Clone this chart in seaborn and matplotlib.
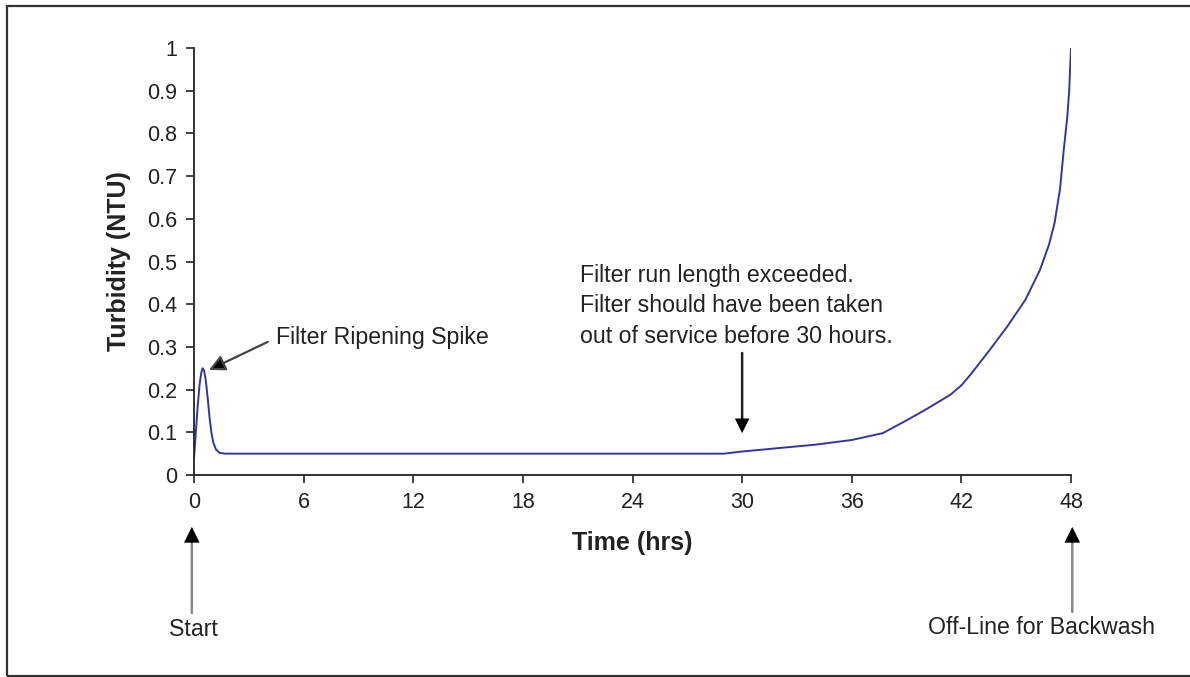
import matplotlib
matplotlib.use("Agg")
import matplotlib.pyplot as plt
from matplotlib.patches import Rectangle
import seaborn as sns
import pandas as pd

# turbidity readings over one filter run
time_hrs = [0, 0.1, 0.2, 0.3, 0.4, 0.47, 0.55, 0.65, 0.75, 0.85, 0.95, 1.05, 1.2, 1.4, 1.7,
            2.0, 29.0, 30.0, 32.0, 34.0, 36.0, 37.7, 39.0, 40.0, 41.4, 42.0, 42.5, 43.5, 44.5,
            45.5, 46.3, 46.8, 47.1, 47.4, 47.6, 47.8, 47.9, 48.0]
turbidity = [0.04, 0.1, 0.16, 0.21, 0.24, 0.25, 0.245, 0.22, 0.18, 0.135, 0.1, 0.077, 0.06,
             0.052, 0.05, 0.05, 0.05, 0.055, 0.063, 0.071, 0.082, 0.098, 0.128, 0.152, 0.188,
             0.21, 0.235, 0.29, 0.347, 0.41, 0.48, 0.54, 0.59, 0.67, 0.76, 0.84, 0.9, 1.0]

x_ticks = [0, 6, 12, 18, 24, 30, 36, 42, 48]
y_ticks = [0, 0.1, 0.2, 0.3, 0.4, 0.5, 0.6, 0.7, 0.8, 0.9, 1.0]
y_tick_labels = ["0", "0.1", "0.2", "0.3", "0.4", "0.5", "0.6", "0.7", "0.8", "0.9", "1"]

df = pd.DataFrame({"Time": time_hrs, "Turbidity": turbidity})

sns.set_style("ticks")
plt.rcParams["font.family"] = ["Liberation Sans", "DejaVu Sans"]
text_col = "#222222"


def px_y(p):
    # figure pixel row -> data y (axis spans rows 475..48)
    return (475 - p) / 427


def arrow(ax, x, tip, tail, shaft_col, size=26):
    # gray shaft with a solid black head, like the original
    ax.annotate("", xy=(x, px_y(tip)), xytext=(x, px_y(tail)), annotation_clip=False,
                arrowprops=dict(arrowstyle="-", color=shaft_col, lw=1.8, shrinkA=0, shrinkB=4))
    ax.annotate("", xy=(x, px_y(tip)), xytext=(x, px_y(tip + (16 if tail > tip else -16))),
                annotation_clip=False,
                arrowprops=dict(arrowstyle="-|>", fc="black", ec="black", lw=0.5,
                                mutation_scale=size, shrinkA=0, shrinkB=0))


fig = plt.figure(figsize=(11.9, 6.77), dpi=100)
ax = fig.add_axes([194 / 1190, 1 - 475 / 677, (1071 - 194) / 1190, (475 - 48) / 677])

sns.lineplot(data=df, x="Time", y="Turbidity", ax=ax, color="#3535a0", linewidth=1.4,
             estimator=None)

ax.set_xlim(0, 48)
ax.set_ylim(0, 1)
ax.set_xticks(x_ticks)
ax.set_yticks(y_ticks)
ax.set_yticklabels(y_tick_labels)
ax.tick_params(axis="both", labelsize=15.5, length=6, width=1.2, colors="#222222", pad=6)
for s in ["top", "right"]:
    ax.spines[s].set_visible(False)
for s in ["left", "bottom"]:
    ax.spines[s].set_linewidth(1.3)
    ax.spines[s].set_color("#222222")

ax.set_xlabel("Time (hrs)", fontsize=18, fontweight="bold", color=text_col, labelpad=13)
ax.set_ylabel("Turbidity (NTU)", fontsize=18, fontweight="bold", color=text_col, labelpad=12)

# ripening spike
ax.annotate("Filter Ripening Spike", xy=(0.82, 0.246), xytext=(4.49, 0.321),
            fontsize=16.7, color=text_col, ha="left", va="center",
            arrowprops=dict(arrowstyle="-|>", fc="black", ec="#444444", lw=1.6,
                            mutation_scale=24, shrinkA=4, shrinkB=0, relpos=(0, 0.5)))

# run length exceeded
ax.text(21.13, px_y(306),
        "Filter run length exceeded.\nFilter should have been taken\nout of service before 30 hours.",
        fontsize=16.7, color=text_col, ha="left", va="center", linespacing=1.44)
arrow(ax, 30, 433, 353, "#222222", size=24)

# start / backwash markers below the axis
arrow(ax, -0.12, 527, 613, "#888888")
ax.text(-0.05, px_y(629), "Start", fontsize=16.7, color=text_col,
        ha="center", va="center", clip_on=False)

arrow(ax, 48.07, 527, 612, "#888888")
ax.text(46.4, px_y(627), "Off-Line for Backwash", fontsize=16.7, color=text_col,
        ha="center", va="center", clip_on=False)

# outer frame of the figure
fig.patches.append(Rectangle((7 / 1190, 1 / 677), 1.1, 1 - 7 / 677, transform=fig.transFigure,
                             fill=False, ec="#333333", lw=1.6))

fig.savefig("out.png", dpi=100)
